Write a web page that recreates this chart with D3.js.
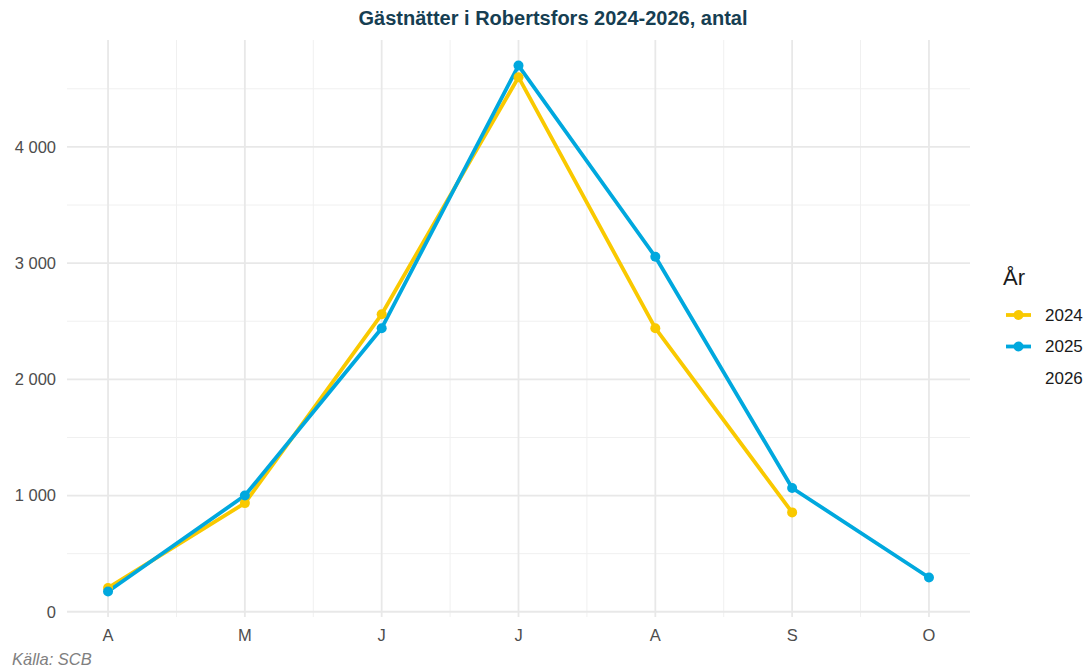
<!DOCTYPE html>
<html lang="sv">
  <head>
    <meta charset="utf-8">
    <title>Gästnätter i Robertsfors</title>
    <script src="https://d3js.org/d3.v7.min.js"></script>
    <style>
      body { margin: 0; background: #fff; }
      text { font-family: "Liberation Sans", Arial, sans-serif; }
    </style>
  </head>

  <body>

    <script>

// Data

  var months = ["A", "M", "J", "J", "A", "S", "O"];
  var years = ["2024", "2025", "2026"];
  var colors = ["#F9C900", "#00A8DE", "none"];

  var v2024 = [205, 935, 2560, 4600, 2440, 855];
  var v2025 = [175, 1000, 2440, 4700, 3055, 1065, 295];
  var v2026 = [];

  var yTicks = [0, 1000, 2000, 3000, 4000];
  var yMinor = [500, 1500, 2500, 3500, 4500];

  var series = [v2024, v2025, v2026];

// Setup

  var W = 1088, H = 671;
  var pLeft = 67, pRight = 970, pTop = 40, pBottom = 617;

  var svg = d3.select("body")
    .append("svg")
      .attr("width", W)
      .attr("height", H);

  var x = d3.scalePoint()
      .domain(d3.range(months.length))
      .range([pLeft, pRight])
      .padding(0.3);

  var y = d3.scaleLinear()
      .domain([-45, 4920])
      .range([pBottom, pTop]);

  var step = x.step();

// Grid

  var grid = svg.append("g");

  grid.selectAll(".ymin").data(yMinor).enter().append("line")
      .attr("x1", pLeft).attr("x2", pRight)
      .attr("y1", d => y(d)).attr("y2", d => y(d))
      .attr("stroke", "#f0f0f0").attr("stroke-width", 1);

  grid.selectAll(".xmin").data(d3.range(months.length - 1)).enter().append("line")
      .attr("x1", d => x(d) + step / 2).attr("x2", d => x(d) + step / 2)
      .attr("y1", pTop).attr("y2", pBottom)
      .attr("stroke", "#f0f0f0").attr("stroke-width", 1);

  grid.selectAll(".ymaj").data(yTicks).enter().append("line")
      .attr("x1", pLeft).attr("x2", pRight)
      .attr("y1", d => y(d)).attr("y2", d => y(d))
      .attr("stroke", "#e8e8e8").attr("stroke-width", 1.8);

  grid.selectAll(".xmaj").data(d3.range(months.length)).enter().append("line")
      .attr("x1", d => x(d)).attr("x2", d => x(d))
      .attr("y1", pTop).attr("y2", pBottom)
      .attr("stroke", "#e8e8e8").attr("stroke-width", 1.8);

// Axes labels

  svg.selectAll(".ylab").data(yTicks).enter().append("text")
      .attr("x", pLeft - 11)
      .attr("y", d => y(d))
      .attr("dy", "0.35em")
      .attr("text-anchor", "end")
      .attr("font-size", 16.5)
      .attr("fill", "#4d4d4d")
      .text(d => d3.format(",")(d).replace(",", " "));

  svg.selectAll(".xlab").data(months).enter().append("text")
      .attr("x", (d, i) => x(i))
      .attr("y", pBottom + 24)
      .attr("text-anchor", "middle")
      .attr("font-size", 16.5)
      .attr("fill", "#4d4d4d")
      .text(d => d);

// Lines and points

  var line = d3.line()
      .x((d, i) => x(i))
      .y(d => y(d));

  series.forEach(function (s, k) {
    if (!s.length) return;
    svg.append("path")
        .datum(s)
        .attr("d", line)
        .attr("fill", "none")
        .attr("stroke", colors[k])
        .attr("stroke-width", 3.8)
        .attr("stroke-linejoin", "round");
  });

  series.forEach(function (s, k) {
    svg.selectAll(".pt" + k).data(s).enter().append("circle")
        .attr("cx", (d, i) => x(i))
        .attr("cy", d => y(d))
        .attr("r", 5)
        .attr("fill", colors[k]);
  });

// Title, caption

  svg.append("text")
      .attr("x", 553)
      .attr("y", 25)
      .attr("text-anchor", "middle")
      .attr("font-size", 20)
      .attr("font-weight", "bold")
      .attr("fill", "#163E52")
      .text("Gästnätter i Robertsfors 2024-2026, antal");

  svg.append("text")
      .attr("x", 12)
      .attr("y", 665)
      .attr("font-size", 16.5)
      .attr("font-style", "italic")
      .attr("fill", "#808080")
      .text("Källa: SCB");

// Legend

  var lg = svg.append("g").attr("transform", "translate(1003,0)");

  lg.append("text")
      .attr("x", 0).attr("y", 285)
      .attr("font-size", 22)
      .attr("fill", "#1a1a1a")
      .text("År");

  years.forEach(function (yr, k) {
    var cy = 315 + k * 31.5;
    if (colors[k] != "none") {
      lg.append("line")
          .attr("x1", 3).attr("x2", 28)
          .attr("y1", cy).attr("y2", cy)
          .attr("stroke", colors[k]).attr("stroke-width", 3.8);
      lg.append("circle")
          .attr("cx", 15.5).attr("cy", cy).attr("r", 5)
          .attr("fill", colors[k]);
    }
    lg.append("text")
        .attr("x", 42).attr("y", cy)
        .attr("dy", "0.35em")
        .attr("font-size", 17)
        .attr("fill", "#1a1a1a")
        .text(yr);
  });

    </script>

  </body>

</html>
